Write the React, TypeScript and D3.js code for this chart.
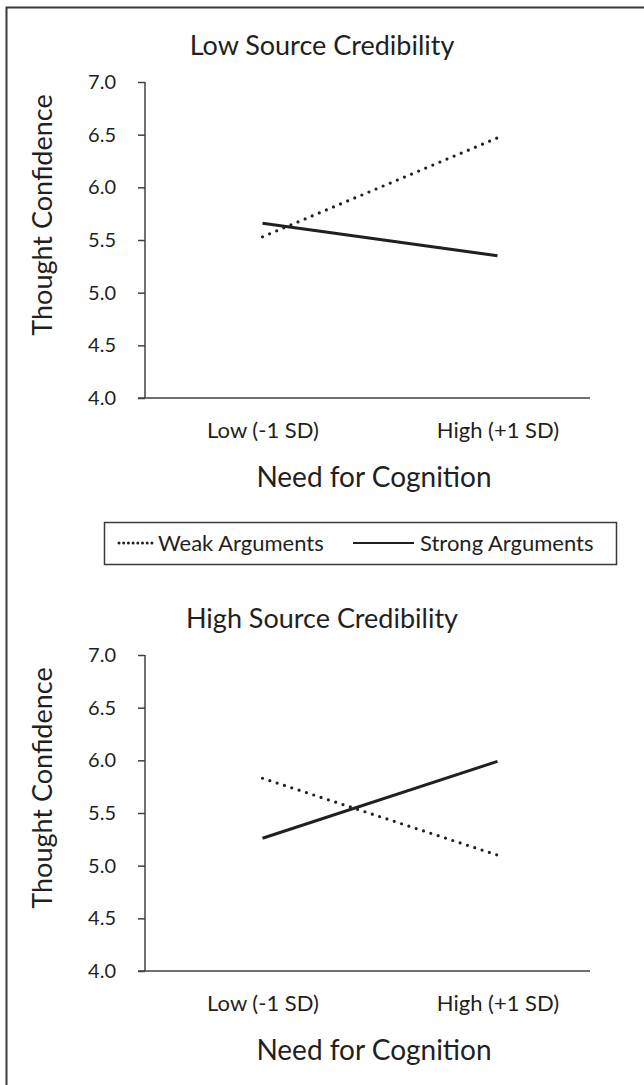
import { useEffect, useRef } from "react"
import * as d3 from "d3"

// categories on the x axis
const categories = ["Low (-1 SD)", "High (+1 SD)"]
const yTicks = [4.0, 4.5, 5.0, 5.5, 6.0, 6.5, 7.0]

// panel values
const lowCredWeak = [5.53, 6.47]
const lowCredStrong = [5.66, 5.35]
const highCredWeak = [5.83, 5.1]
const highCredStrong = [5.26, 5.99]

const panels = [
  { title: "Low Source Credibility", weak: lowCredWeak, strong: lowCredStrong, top: 82 },
  { title: "High Source Credibility", weak: highCredWeak, strong: highCredStrong, top: 655 },
]

const FONT = "Lato, 'Open Sans', sans-serif"
const INK = "#231f20"
const AXIS = "#404040"

export default function App() {
  const svgRef = useRef<SVGSVGElement>(null)

  useEffect(() => {
    if (!svgRef.current) return
    const svg = d3.select(svgRef.current)
    svg.selectAll("*").remove()

    const W = 644
    const H = 1085
    const left = 145
    const right = 615
    const axisEnd = 590
    const plotH = 316

    // outer frame (runs off the right and bottom edge)
    svg
      .append("rect")
      .attr("x", 6.5)
      .attr("y", 7.5)
      .attr("width", W + 20)
      .attr("height", H + 20)
      .attr("fill", "none")
      .attr("stroke", "#3a3a3a")
      .attr("stroke-width", 2)

    const x = d3.scalePoint<string>().domain(categories).range([left, right]).padding(0.5)

    panels.forEach((p) => {
      const y = d3.scaleLinear().domain([4, 7]).range([p.top + plotH, p.top])
      const g = svg.append("g")

      // title
      g.append("text")
        .attr("x", 322)
        .attr("y", p.top - 27)
        .attr("text-anchor", "middle")
        .attr("fill", INK)
        .style("font-family", FONT)
        .style("font-size", "27px")
        .text(p.title)

      // y axis
      const yAxis = g
        .append("g")
        .attr("transform", `translate(${left},0)`)
        .call(d3.axisLeft(y).tickValues(yTicks).tickFormat(d3.format(".1f")).tickSize(7).tickPadding(22))
      yAxis.select(".domain").attr("stroke", AXIS).attr("stroke-width", 1.5).attr("d", `M0,${p.top}V${p.top + plotH}`)
      yAxis.selectAll(".tick line").attr("stroke", AXIS).attr("stroke-width", 1.5)
      yAxis
        .selectAll(".tick text")
        .attr("fill", INK)
        .style("font-family", FONT)
        .style("font-size", "20px")

      // x axis
      const xAxis = g
        .append("g")
        .attr("transform", `translate(0,${p.top + plotH})`)
        .call(d3.axisBottom(x).tickSize(0).tickPadding(24))
      xAxis.select(".domain").attr("stroke", AXIS).attr("stroke-width", 1.5).attr("d", `M${left - 7},0H${axisEnd}`)
      xAxis
        .selectAll(".tick text")
        .attr("fill", INK)
        .style("font-family", FONT)
        .style("font-size", "22px")

      // axis titles
      g.append("text")
        .attr("x", 374)
        .attr("y", p.top + plotH + 89)
        .attr("text-anchor", "middle")
        .attr("fill", INK)
        .style("font-family", FONT)
        .style("font-size", "28px")
        .text("Need for Cognition")

      g.append("text")
        .attr("transform", `translate(52,${p.top + plotH / 2 - 25}) rotate(-90)`)
        .attr("text-anchor", "middle")
        .attr("fill", INK)
        .style("font-family", FONT)
        .style("font-size", "27px")
        .text("Thought Confidence")

      const line = d3
        .line<number>()
        .x((_, i) => x(categories[i]) as number)
        .y((d) => y(d))

      g.append("path")
        .attr("d", line(p.strong))
        .attr("fill", "none")
        .attr("stroke", INK)
        .attr("stroke-width", 3)

      g.append("path")
        .attr("d", line(p.weak))
        .attr("fill", "none")
        .attr("stroke", INK)
        .attr("stroke-width", 3.2)
        .attr("stroke-linecap", "round")
        .attr("stroke-dasharray", "0 7.7")
    })

    // legend
    const lg = svg.append("g")
    lg.append("rect")
      .attr("x", 104.5)
      .attr("y", 522.5)
      .attr("width", 512)
      .attr("height", 42)
      .attr("fill", "white")
      .attr("stroke", "#3a3a3a")
      .attr("stroke-width", 1.5)

    lg.append("line")
      .attr("x1", 119)
      .attr("x2", 152)
      .attr("y1", 543)
      .attr("y2", 543)
      .attr("stroke", INK)
      .attr("stroke-width", 3)
      .attr("stroke-linecap", "round")
      .attr("stroke-dasharray", "0 4.7")

    lg.append("text")
      .attr("x", 158)
      .attr("y", 551)
      .attr("fill", INK)
      .style("font-family", FONT)
      .style("font-size", "22px")
      .text("Weak Arguments")

    lg.append("line")
      .attr("x1", 353)
      .attr("x2", 414)
      .attr("y1", 543)
      .attr("y2", 543)
      .attr("stroke", INK)
      .attr("stroke-width", 2)

    lg.append("text")
      .attr("x", 420)
      .attr("y", 551)
      .attr("fill", INK)
      .style("font-family", FONT)
      .style("font-size", "22px")
      .text("Strong Arguments")
  }, [])

  return (
    <div style={{ position: "absolute", left: 0, top: 0, width: 644, height: 1085, background: "white" }}>
      <svg ref={svgRef} width={644} height={1085}></svg>
    </div>
  )
}
